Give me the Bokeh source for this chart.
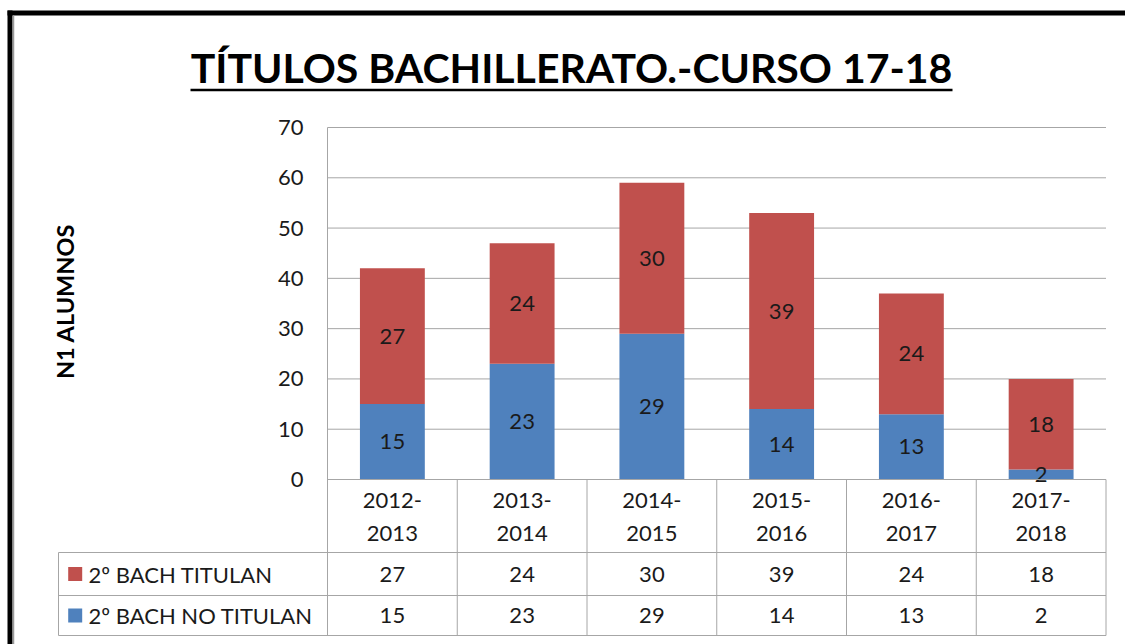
import math
from bokeh.plotting import figure
from bokeh.models import Range1d, ColumnDataSource
from bokeh.core.properties import value
from bokeh.embed import file_html
from bokeh.resources import INLINE

# ---------------- data ----------------
categories = ["2012-2013", "2013-2014", "2014-2015", "2015-2016", "2016-2017", "2017-2018"]
titulan = [27, 24, 30, 39, 24, 18]
no_titulan = [15, 23, 29, 14, 13, 2]
series_names = ["2º BACH TITULAN", "2º BACH NO TITULAN"]
y_ticks = [0, 10, 20, 30, 40, 50, 60, 70]
title_text = "TÍTULOS BACHILLERATO.-CURSO 17-18"
y_label = "N1 ALUMNOS"

# ---------------- styles ----------------
RED = "#C0504D"
BLUE = "#4F81BD"
GRID = "#a6a6a6"
TXT = "#1a1a1a"
FONT = value("Lato")
FS = "22px"

# ---------------- layout (page pixels) ----------------
W, H = 1125, 644
OX, OY = 0, 0
X0_PX, XN_PX = 327, 1105.5      # plot area left / right
Y0_PX, YMAX_PX = 479, 127       # value 0 / value 70
n = len(categories)
ymax = y_ticks[-1]
sx = (XN_PX - X0_PX) / n
sy = (Y0_PX - YMAX_PX) / ymax


def dx(px):
    return (px - X0_PX) / sx


def dy(py):
    return (Y0_PX - py) / sy


p = figure(width=W, height=H,
           x_range=Range1d(dx(OX), dx(OX + W)),
           y_range=Range1d(dy(OY + H), dy(OY)),
           x_axis_type=None, y_axis_type=None,
           output_backend="svg", toolbar_location=None, tools="",
           min_border=0)
p.outline_line_color = None
p.grid.visible = False
p.background_fill_color = "white"
p.border_fill_color = "white"

# table rows (page pixels)
row_top, row1, row2, row_bot = Y0_PX, 552, 595, 635
leg_left = 58

# ---- gridlines ----
grid_vals = [t for t in y_ticks if t > 0]
p.segment(x0=[0] * len(grid_vals), x1=[n] * len(grid_vals), y0=grid_vals, y1=grid_vals,
          line_color=GRID, line_width=1)

# ---- bars ----
centers = [i + 0.5 for i in range(n)]
tops = [a + b for a, b in zip(no_titulan, titulan)]
src = ColumnDataSource(dict(x=centers, no=no_titulan, ti=titulan, top=tops,
                            no_mid=[v / 2 for v in no_titulan],
                            ti_mid=[a + b / 2 for a, b in zip(no_titulan, titulan)],
                            no_lab=[str(v) for v in no_titulan],
                            ti_lab=[str(v) for v in titulan]))
p.vbar(x="x", width=0.5, bottom=0, top="no", source=src, fill_color=BLUE, line_color=None)
p.vbar(x="x", width=0.5, bottom="no", top="top", source=src, fill_color=RED, line_color=None)
p.text(x="x", y="no_mid", text="no_lab", source=src, text_font=FONT, text_font_size=FS,
       text_color=TXT, text_align="center", text_baseline="middle")
p.text(x="x", y="ti_mid", text="ti_lab", source=src, text_font=FONT, text_font_size=FS,
       text_color=TXT, text_align="center", text_baseline="middle")

# ---- axis line + table lines ----
yb = dy(row_bot)
p.segment(x0=[0], x1=[0], y0=[ymax], y1=[yb], line_color=GRID, line_width=1)
p.segment(x0=list(range(1, n + 1)), x1=list(range(1, n + 1)),
          y0=[0] * n, y1=[yb] * n, line_color=GRID, line_width=1)
p.segment(x0=[0], x1=[n], y0=[0], y1=[0], line_color=GRID, line_width=1)
hl = [dy(row1), dy(row2), yb]
p.segment(x0=[dx(leg_left)] * 3, x1=[n] * 3, y0=hl, y1=hl, line_color=GRID, line_width=1)
p.segment(x0=[dx(leg_left)], x1=[dx(leg_left)], y0=[dy(row1)], y1=[yb], line_color=GRID, line_width=1)

# ---- y tick labels ----
p.text(x=[0] * len(y_ticks), y=y_ticks, text=[str(t) for t in y_ticks], x_offset=-24,
       text_font=FONT, text_font_size=FS, text_color=TXT,
       text_align="right", text_baseline="middle")

# ---- category labels ----
cat_lab = [c.replace("-", "-\n", 1) for c in categories]
p.text(x=centers, y=[dy((row_top + row1) / 2)] * n, text=cat_lab,
       text_font=FONT, text_font_size=FS, text_color=TXT, text_line_height=1.25,
       text_align="center", text_baseline="middle")

# ---- table values ----
r1y, r2y = dy((row1 + row2) / 2), dy((row2 + row_bot) / 2)
p.text(x=centers, y=[r1y] * n, text=[str(v) for v in titulan],
       text_font=FONT, text_font_size=FS, text_color=TXT, text_align="center", text_baseline="middle")
p.text(x=centers, y=[r2y] * n, text=[str(v) for v in no_titulan],
       text_font=FONT, text_font_size=FS, text_color=TXT, text_align="center", text_baseline="middle")

# ---- legend keys in table ----
p.scatter(x=[dx(74.7)] * 2, y=[r1y, r2y], marker="square", size=14,
          fill_color=[RED, BLUE], line_color=None)
p.text(x=[dx(88)] * 2, y=[r1y, r2y], text=series_names,
       text_font=FONT, text_font_size=FS, text_color=TXT, text_align="left", text_baseline="middle")

# ---- y axis title ----
p.text(x=[dx(64)], y=[dy(301)], text=[y_label], angle=math.pi / 2,
       text_font=FONT, text_font_size="23.5px", text_font_style="bold", text_color="black",
       text_align="center", text_baseline="middle")

# ---- chart title with underline ----
p.text(x=[dx(571)], y=[dy(67)], text=[title_text],
       text_font=FONT, text_font_size="41px", text_font_style="bold", text_color="black",
       text_align="center", text_baseline="middle")
p.segment(x0=[dx(190)], x1=[dx(952)], y0=[dy(89.5)], y1=[dy(89.5)], line_color="black", line_width=2.5)

# ---- outer chart border ----
p.segment(x0=[dx(9.5)], x1=[dx(9.5)], y0=[dy(10)], y1=[dy(OY + H)], line_color="black", line_width=5)
p.segment(x0=[dx(7)], x1=[dx(OX + W)], y0=[dy(12.5)], y1=[dy(12.5)], line_color="black", line_width=5)
p.segment(x0=[dx(13)], x1=[dx(13)], y0=[dy(15)], y1=[dy(OY + H)], line_color="#9a9a9a", line_width=1.5)

open("out.html", "w").write(file_html(p, INLINE))
